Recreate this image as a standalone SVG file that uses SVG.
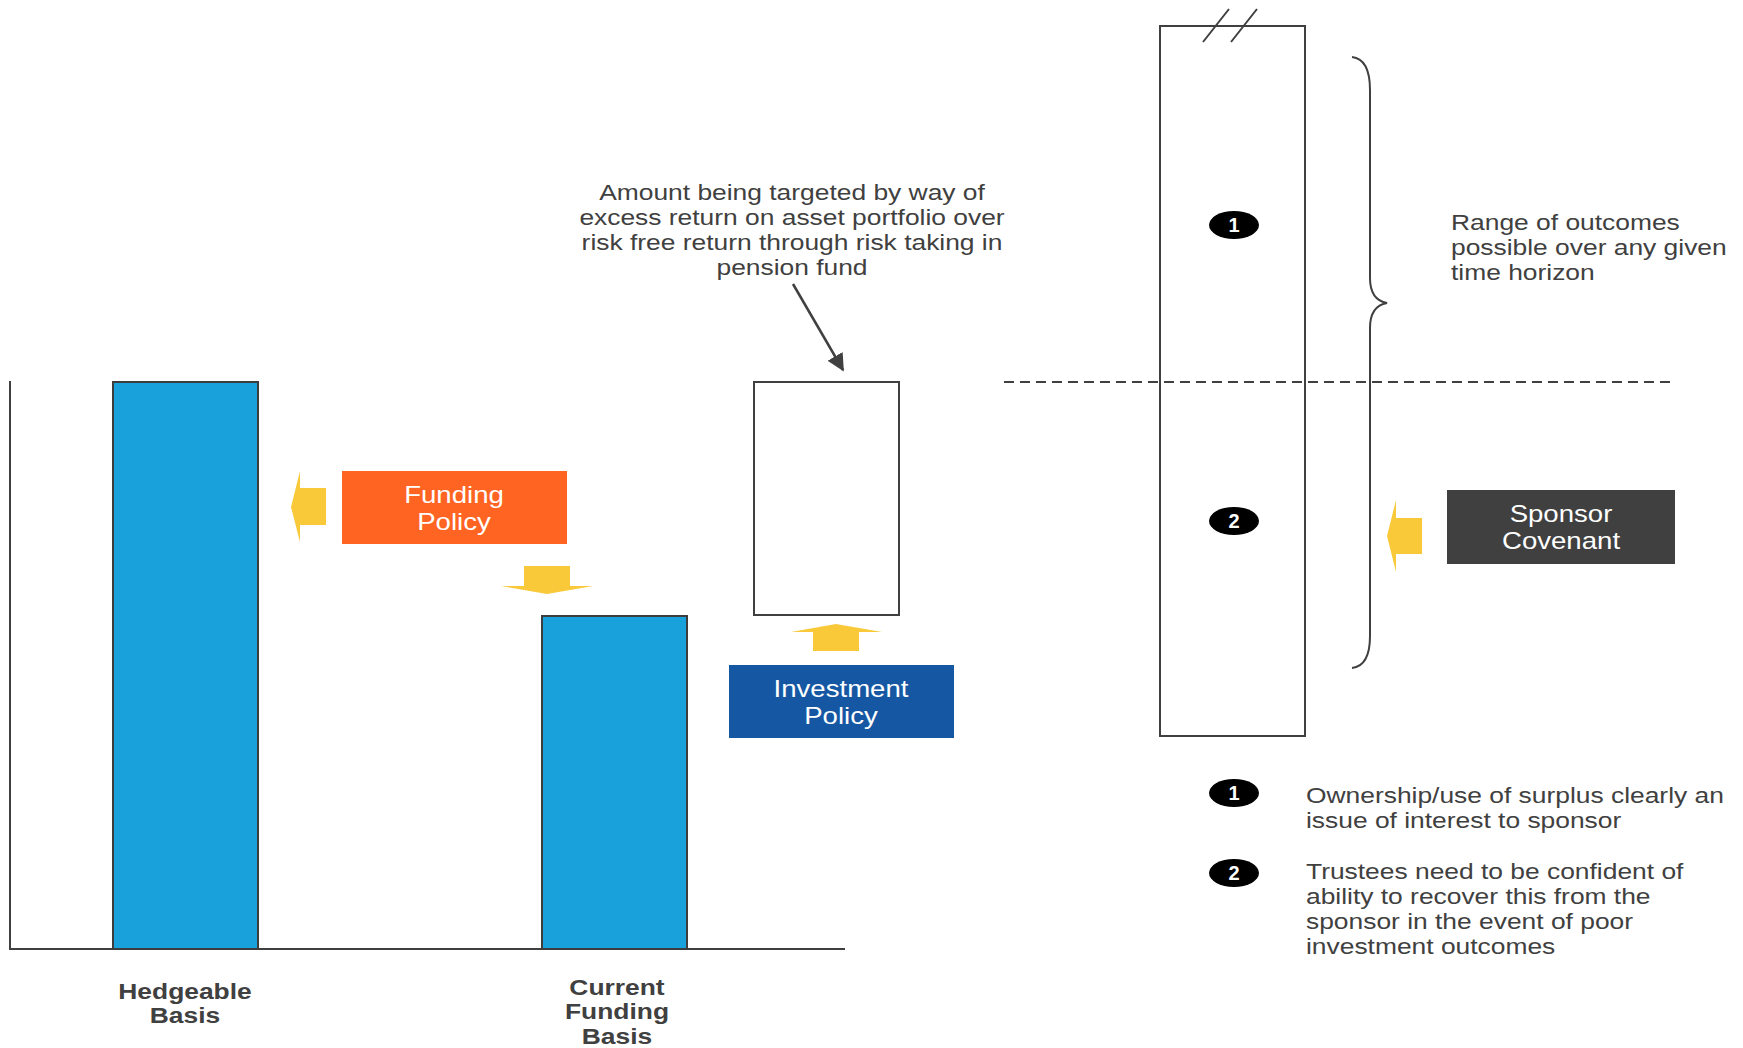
<svg xmlns="http://www.w3.org/2000/svg" width="1743" height="1048" viewBox="0 0 1743 1048">
<defs>
<style>
.txt{font-family:"Liberation Sans",Arial,sans-serif;font-size:22px;fill:#404040}
.lbl{font-family:"Liberation Sans",Arial,sans-serif;font-size:22px;font-weight:bold;fill:#404040;text-anchor:middle}
.wt{font-family:"Liberation Sans",Arial,sans-serif;font-size:23px;fill:#ffffff;text-anchor:middle}
.num{font-family:"Liberation Sans",Arial,sans-serif;font-size:20px;font-weight:bold;fill:#ffffff;text-anchor:middle}
.bar{fill:#18A1DA;stroke:#3d3d3d;stroke-width:2}
.box{fill:#ffffff;stroke:#404040;stroke-width:2}
.yarrow{fill:#F9C93A}
.line{fill:none;stroke:#404040;stroke-width:2}
.badge{fill:#000000}
</style>
<marker id="ah" viewBox="0 0 10 10" refX="9" refY="5" markerWidth="7" markerHeight="7" markerUnits="strokeWidth" orient="auto">
<path d="M0,0 L10,5 L0,10 z" fill="#404040"/>
</marker>
</defs>
<rect width="1743" height="1048" fill="#ffffff"/>

<!-- axes -->
<g id="axes">
<path class="line" d="M10,381 L10,949 L845,949" stroke-width="1.5"/>
</g>

<!-- bars -->
<g id="hedgeable-basis">
<rect class="bar" x="113" y="382" width="145" height="567"/>
<text class="lbl" transform="translate(185,999) scale(1.2,1)"><tspan x="0">Hedgeable</tspan><tspan x="0" dy="24">Basis</tspan></text>
</g>
<g id="current-funding-basis">
<rect class="bar" x="542" y="616" width="145" height="333"/>
<text class="lbl" transform="translate(617,995) scale(1.2,1)"><tspan x="0">Current</tspan><tspan x="0" dy="24.5">Funding</tspan><tspan x="0" dy="24.5">Basis</tspan></text>
</g>
<g id="target-box">
<rect class="box" x="754" y="382" width="145" height="233"/>
</g>

<!-- policy boxes -->
<g id="funding-policy">
<rect x="342" y="471" width="225" height="73" fill="#FF6422"/>
<text class="wt" transform="translate(454,503) scale(1.2,1)"><tspan x="0">Funding</tspan><tspan x="0" dy="27">Policy</tspan></text>
</g>
<g id="investment-policy">
<rect x="729" y="665" width="225" height="73" fill="#1657A4"/>
<text class="wt" transform="translate(841,697) scale(1.2,1)"><tspan x="0">Investment</tspan><tspan x="0" dy="27">Policy</tspan></text>
</g>
<g id="sponsor-covenant">
<rect x="1447" y="490" width="228" height="74" fill="#404040"/>
<text class="wt" transform="translate(1561,522) scale(1.2,1)"><tspan x="0">Sponsor</tspan><tspan x="0" dy="27">Covenant</tspan></text>
</g>

<!-- annotation -->
<g id="annotation">
<text class="txt" text-anchor="middle" transform="translate(792,200) scale(1.2,1)"><tspan x="0">Amount being targeted by way of</tspan><tspan x="0" dy="25">excess return on asset portfolio over</tspan><tspan x="0" dy="25">risk free return through risk taking in</tspan><tspan x="0" dy="25">pension fund</tspan></text>
</g>

<!-- tall outcome box -->
<g id="outcome-range-box">
<rect class="box" x="1160" y="26" width="145" height="710"/>
<path class="line" d="M1203,42 L1229,9 M1231,42 L1257,9" stroke-width="2"/>
</g>

<g id="range-brace">
<path class="line" d="M1352,57 Q1370,59 1370,90 L1370,278 Q1370,300 1387,303 Q1370,306 1370,328 L1370,636 Q1370,666 1352,668"/>
<text class="txt" transform="translate(1451,230) scale(1.2,1)"><tspan x="0">Range of outcomes</tspan><tspan x="0" dy="25">possible over any given</tspan><tspan x="0" dy="25">time horizon</tspan></text>
</g>

<g id="threshold-line">
<line x1="1004" y1="382" x2="1673" y2="382" stroke="#404040" stroke-width="2" stroke-dasharray="10,6"/>
</g>

<g id="badge-1">
<ellipse class="badge" cx="1234" cy="225" rx="25" ry="14"/>
<text class="num" x="1234" y="232">1</text>
</g>
<g id="badge-2">
<ellipse class="badge" cx="1234" cy="521" rx="25" ry="14"/>
<text class="num" x="1234" y="528">2</text>
</g>

<!-- legend -->
<g id="legend-1">
<ellipse class="badge" cx="1234" cy="793" rx="25" ry="14"/>
<text class="num" x="1234" y="800">1</text>
<text class="txt" transform="translate(1306,803) scale(1.2,1)"><tspan x="0">Ownership/use of surplus clearly an</tspan><tspan x="0" dy="25">issue of interest to sponsor</tspan></text>
</g>
<g id="legend-2">
<ellipse class="badge" cx="1234" cy="873" rx="25" ry="14"/>
<text class="num" x="1234" y="880">2</text>
<text class="txt" transform="translate(1306,879) scale(1.2,1)"><tspan x="0">Trustees need to be confident of</tspan><tspan x="0" dy="25">ability to recover this from the</tspan><tspan x="0" dy="25">sponsor in the event of poor</tspan><tspan x="0" dy="25">investment outcomes</tspan></text>
</g>

<!-- connectors -->
<g id="connectors">
<line x1="793" y1="284" x2="843" y2="370" stroke="#404040" stroke-width="2.5" marker-end="url(#ah)"/>
<polygon class="yarrow" points="326,488 300,488 300,471 291,507 300,542 300,525 326,525"/>
<polygon class="yarrow" points="524,566 570,566 570,586 593,586 547,594 501,586 524,586"/>
<polygon class="yarrow" points="813,651 859,651 859,632 882,632 836,624 791,632 813,632"/>
<polygon class="yarrow" points="1422,518 1396,518 1396,500 1387,536 1396,572 1396,554 1422,554"/>
</g>
</svg>
